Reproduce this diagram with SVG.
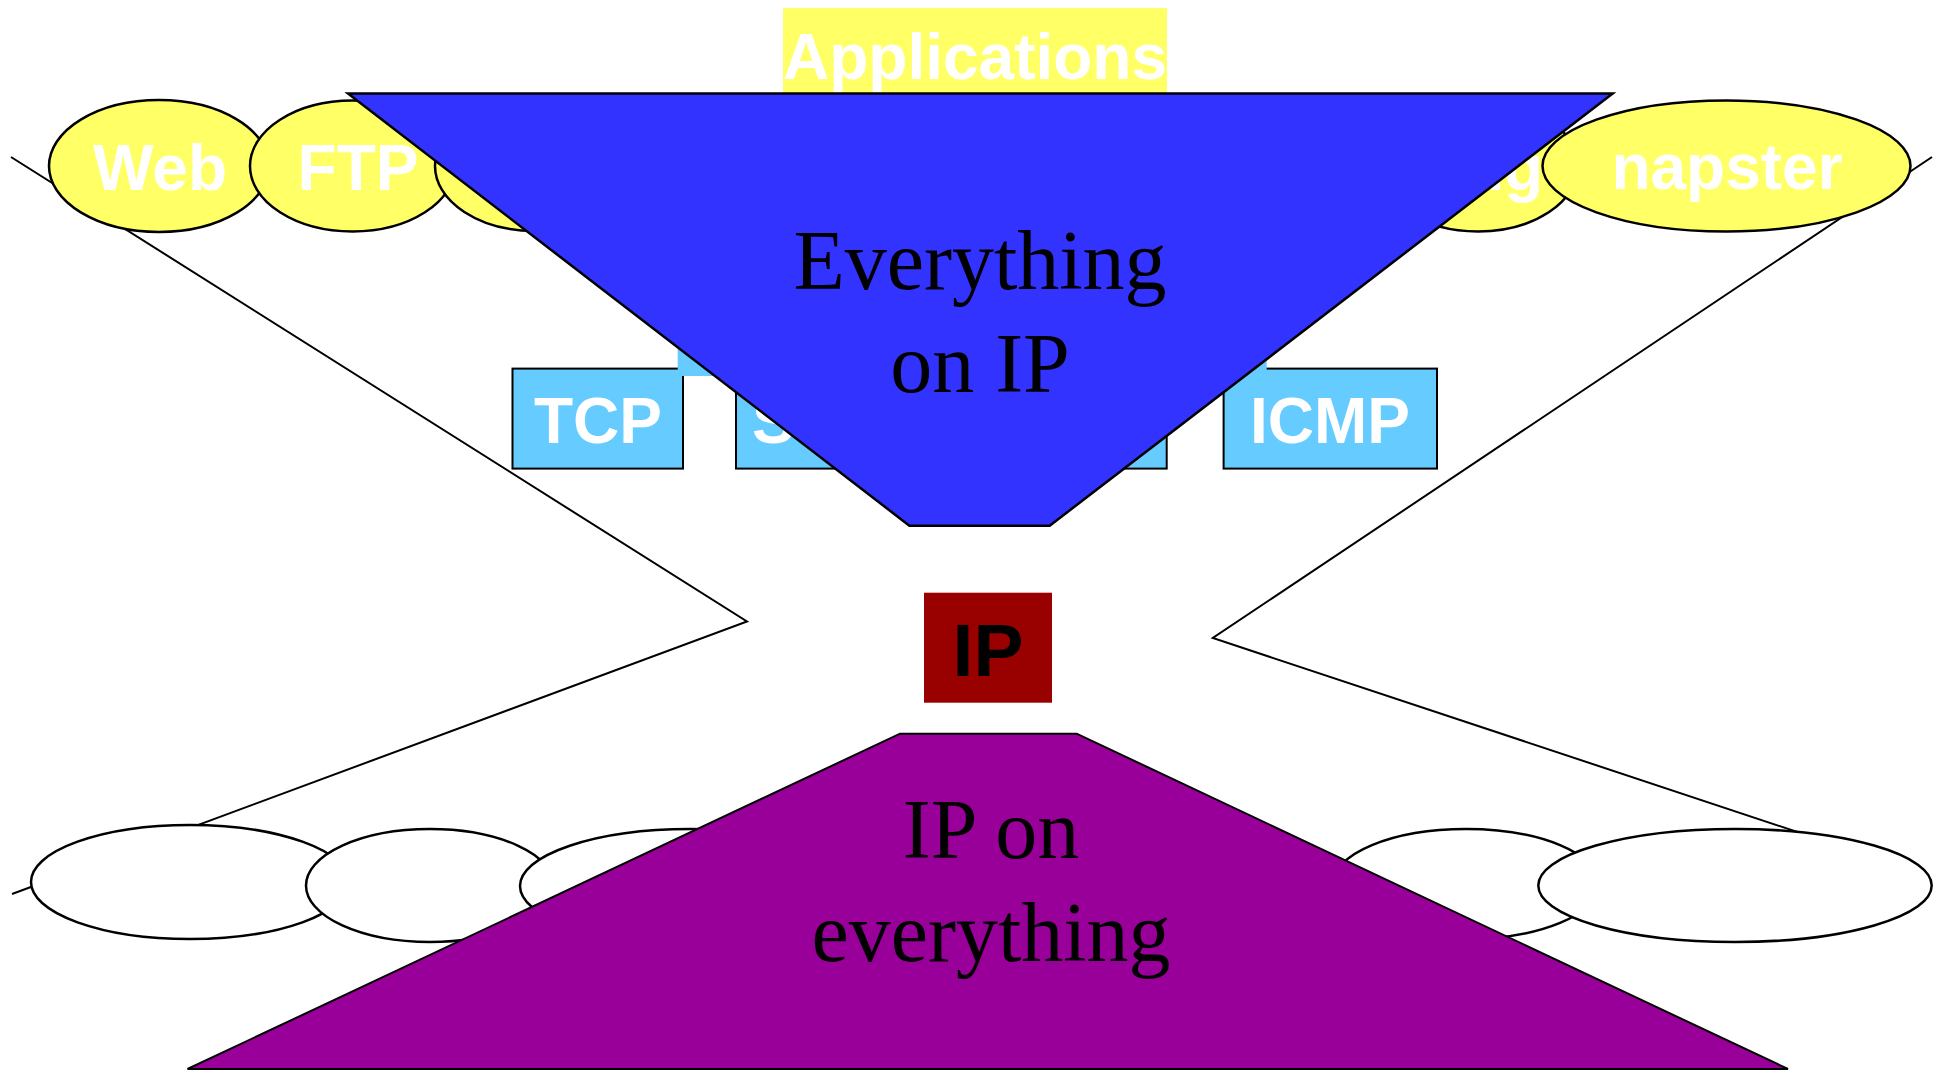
<svg xmlns="http://www.w3.org/2000/svg" width="1944" height="1070" viewBox="0 0 1944 1070">
<style>
.ln{fill:none;stroke:#000;stroke-width:2}
.app{fill:#FFFF66;stroke:#000;stroke-width:2.5}
.net{fill:#fff;stroke:#000;stroke-width:2.5}
.box{fill:#66CCFF;stroke:#000;stroke-width:2}
.wt{font-family:"Liberation Sans",Arial,sans-serif;font-weight:bold;font-size:64px;fill:#fff;text-anchor:middle}
.big{font-family:"Liberation Serif","Times New Roman",serif;font-size:84px;fill:#000;text-anchor:middle}
</style>
<rect width="1944" height="1070" fill="#fff"/>
<g id="connectors">
<polyline class="ln" points="11,157 747,621.5 12,894"/>
<polyline class="ln" points="1932,157 1212.8,638 1900,866"/>
</g>
<g id="app-web"><ellipse class="app" cx="159" cy="166" rx="110" ry="66"/><text class="wt" x="160" y="190">Web</text></g>
<g id="app-ftp"><ellipse class="app" cx="352.5" cy="166" rx="102.5" ry="65.5"/><text class="wt" x="358" y="190">FTP</text></g>
<g id="app-3"><ellipse class="app" cx="535" cy="166" rx="100" ry="65"/></g>
<g id="app-ng"><ellipse class="app" cx="1478" cy="166" rx="100" ry="65.5"/><text class="wt" x="1543" y="190" style="text-anchor:end">ng</text></g>
<g id="app-napster"><ellipse class="app" cx="1726.5" cy="166" rx="184" ry="65.5"/><text class="wt" x="1727" y="189">napster</text></g>
<g id="tcp"><rect class="box" x="512.5" y="368.6" width="170.5" height="100"/><text class="wt" x="598" y="443">TCP</text></g>
<g id="s-box"><rect class="box" x="736" y="368.6" width="430.7" height="100"/><text class="wt" x="752" y="443" style="text-anchor:start">S</text></g>
<g id="icmp"><rect class="box" x="1223.6" y="368.6" width="213.4" height="100"/><text class="wt" x="1330" y="443">ICMP</text></g>
<g id="transport-back"><rect x="677.7" y="280" width="589" height="96" fill="#66CCFF"/></g>
<g id="applications"><rect x="783" y="8" width="384" height="95" fill="#FFFF66"/><text class="wt" x="975" y="79">Applications</text></g>
<g id="everything-on-ip">
<polygon points="348,93.6 1612.7,93.6 1049.7,525.7 909.4,525.7" fill="#3333FF" stroke="#000" stroke-width="2.5"/>
<text class="big" x="980" y="289">Everything</text>
<text class="big" x="980" y="392">on IP</text>
</g>
<g id="ip"><rect x="924" y="592.7" width="128" height="110" fill="#990000"/><text x="988" y="676" font-family="Liberation Sans,Arial,sans-serif" font-weight="bold" font-size="75" text-anchor="middle" fill="#000">IP</text></g>
<g id="net-1"><ellipse class="net" cx="190" cy="882" rx="159" ry="57"/></g>
<g id="net-2"><ellipse class="net" cx="430" cy="885.5" rx="124" ry="56.5"/></g>
<g id="net-3"><ellipse class="net" cx="690" cy="886" rx="170" ry="57"/></g>
<g id="net-4"><ellipse class="net" cx="1466" cy="884" rx="133" ry="55"/></g>
<g id="net-5"><ellipse class="net" cx="1735" cy="885.5" rx="196.7" ry="56.5"/></g>
<g id="ip-on-everything">
<polygon points="900,733.7 1076.7,733.7 1788,1069 187.5,1069" fill="#990099" stroke="#000" stroke-width="2"/>
<text class="big" x="991" y="858">IP on</text>
<text class="big" x="991" y="961">everything</text>
</g>
</svg>
